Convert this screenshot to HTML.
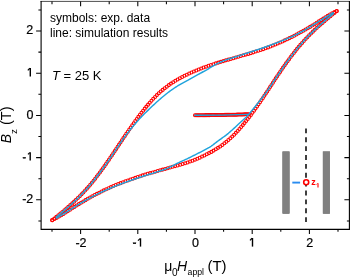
<!DOCTYPE html>
<html><head><meta charset="utf-8"><style>
html,body{margin:0;padding:0;background:#fff;}
body{width:350px;height:278px;overflow:hidden;}
svg{display:block;font-family:"Liberation Sans",sans-serif;will-change:transform;}
</style></head><body>
<svg width="350" height="278" viewBox="0 0 350 278">
<rect width="350" height="278" fill="#fff"/>
<g fill="none" stroke="#ff0000" stroke-width="1.05">
<circle cx="52.30" cy="220.10" r="1.5"/><circle cx="54.33" cy="218.48" r="1.5"/><circle cx="56.36" cy="216.85" r="1.5"/><circle cx="58.38" cy="215.21" r="1.5"/><circle cx="60.39" cy="213.57" r="1.5"/><circle cx="62.40" cy="211.91" r="1.5"/><circle cx="64.39" cy="210.24" r="1.5"/><circle cx="66.37" cy="208.56" r="1.5"/><circle cx="68.34" cy="206.86" r="1.5"/><circle cx="70.29" cy="205.13" r="1.5"/><circle cx="72.22" cy="203.39" r="1.5"/><circle cx="74.13" cy="201.63" r="1.5"/><circle cx="76.02" cy="199.84" r="1.5"/><circle cx="77.88" cy="198.03" r="1.5"/><circle cx="79.73" cy="196.20" r="1.5"/><circle cx="81.55" cy="194.35" r="1.5"/><circle cx="83.34" cy="192.46" r="1.5"/><circle cx="85.11" cy="190.56" r="1.5"/><circle cx="86.86" cy="188.63" r="1.5"/><circle cx="88.57" cy="186.68" r="1.5"/><circle cx="90.26" cy="184.70" r="1.5"/><circle cx="91.92" cy="182.70" r="1.5"/><circle cx="93.56" cy="180.68" r="1.5"/><circle cx="95.18" cy="178.65" r="1.5"/><circle cx="96.77" cy="176.59" r="1.5"/><circle cx="98.35" cy="174.53" r="1.5"/><circle cx="99.91" cy="172.44" r="1.5"/><circle cx="101.45" cy="170.35" r="1.5"/><circle cx="102.97" cy="168.24" r="1.5"/><circle cx="104.48" cy="166.13" r="1.5"/><circle cx="105.98" cy="164.00" r="1.5"/><circle cx="107.46" cy="161.86" r="1.5"/><circle cx="108.93" cy="159.72" r="1.5"/><circle cx="110.40" cy="157.57" r="1.5"/><circle cx="111.85" cy="155.42" r="1.5"/><circle cx="113.30" cy="153.26" r="1.5"/><circle cx="114.75" cy="151.10" r="1.5"/><circle cx="116.19" cy="148.93" r="1.5"/><circle cx="117.63" cy="146.77" r="1.5"/><circle cx="119.07" cy="144.61" r="1.5"/><circle cx="120.51" cy="142.44" r="1.5"/><circle cx="121.96" cy="140.28" r="1.5"/><circle cx="123.41" cy="138.12" r="1.5"/><circle cx="124.86" cy="135.97" r="1.5"/><circle cx="126.32" cy="133.82" r="1.5"/><circle cx="127.79" cy="131.67" r="1.5"/><circle cx="129.27" cy="129.53" r="1.5"/><circle cx="130.75" cy="127.40" r="1.5"/><circle cx="132.25" cy="125.27" r="1.5"/><circle cx="133.75" cy="123.15" r="1.5"/><circle cx="135.27" cy="121.04" r="1.5"/><circle cx="136.81" cy="118.94" r="1.5"/><circle cx="138.36" cy="116.85" r="1.5"/><circle cx="139.92" cy="114.78" r="1.5"/><circle cx="141.50" cy="112.71" r="1.5"/><circle cx="143.11" cy="110.67" r="1.5"/><circle cx="144.73" cy="108.64" r="1.5"/><circle cx="146.38" cy="106.63" r="1.5"/><circle cx="148.05" cy="104.64" r="1.5"/><circle cx="149.75" cy="102.67" r="1.5"/><circle cx="151.49" cy="100.73" r="1.5"/><circle cx="153.25" cy="98.82" r="1.5"/><circle cx="155.05" cy="96.95" r="1.5"/><circle cx="156.89" cy="95.11" r="1.5"/><circle cx="158.78" cy="93.32" r="1.5"/><circle cx="160.71" cy="91.58" r="1.5"/><circle cx="162.68" cy="89.88" r="1.5"/><circle cx="164.69" cy="88.24" r="1.5"/><circle cx="166.75" cy="86.65" r="1.5"/><circle cx="168.84" cy="85.11" r="1.5"/><circle cx="170.98" cy="83.62" r="1.5"/><circle cx="173.15" cy="82.19" r="1.5"/><circle cx="175.35" cy="80.82" r="1.5"/><circle cx="177.59" cy="79.49" r="1.5"/><circle cx="179.86" cy="78.21" r="1.5"/><circle cx="182.15" cy="76.99" r="1.5"/><circle cx="184.46" cy="75.80" r="1.5"/><circle cx="186.80" cy="74.65" r="1.5"/><circle cx="189.15" cy="73.54" r="1.5"/><circle cx="191.51" cy="72.47" r="1.5"/><circle cx="193.90" cy="71.43" r="1.5"/><circle cx="196.29" cy="70.42" r="1.5"/><circle cx="198.70" cy="69.45" r="1.5"/><circle cx="201.13" cy="68.50" r="1.5"/><circle cx="203.56" cy="67.58" r="1.5"/><circle cx="206.00" cy="66.70" r="1.5"/><circle cx="208.46" cy="65.83" r="1.5"/><circle cx="210.92" cy="65.00" r="1.5"/><circle cx="213.39" cy="64.18" r="1.5"/><circle cx="215.86" cy="63.39" r="1.5"/><circle cx="218.34" cy="62.61" r="1.5"/><circle cx="220.83" cy="61.85" r="1.5"/><circle cx="223.32" cy="61.10" r="1.5"/><circle cx="225.81" cy="60.37" r="1.5"/><circle cx="228.31" cy="59.64" r="1.5"/><circle cx="230.81" cy="58.92" r="1.5"/><circle cx="233.31" cy="58.21" r="1.5"/><circle cx="235.81" cy="57.49" r="1.5"/><circle cx="238.31" cy="56.78" r="1.5"/><circle cx="240.81" cy="56.07" r="1.5"/><circle cx="243.31" cy="55.34" r="1.5"/><circle cx="245.80" cy="54.62" r="1.5"/><circle cx="248.30" cy="53.88" r="1.5"/><circle cx="250.79" cy="53.13" r="1.5"/><circle cx="253.27" cy="52.37" r="1.5"/><circle cx="255.75" cy="51.59" r="1.5"/><circle cx="258.23" cy="50.79" r="1.5"/><circle cx="260.69" cy="49.97" r="1.5"/><circle cx="263.15" cy="49.13" r="1.5"/><circle cx="265.61" cy="48.27" r="1.5"/><circle cx="268.05" cy="47.38" r="1.5"/><circle cx="270.48" cy="46.46" r="1.5"/><circle cx="272.90" cy="45.51" r="1.5"/><circle cx="275.31" cy="44.53" r="1.5"/><circle cx="277.71" cy="43.53" r="1.5"/><circle cx="280.10" cy="42.50" r="1.5"/><circle cx="282.47" cy="41.44" r="1.5"/><circle cx="284.83" cy="40.36" r="1.5"/><circle cx="287.19" cy="39.25" r="1.5"/><circle cx="289.53" cy="38.11" r="1.5"/><circle cx="291.85" cy="36.96" r="1.5"/><circle cx="294.17" cy="35.77" r="1.5"/><circle cx="296.47" cy="34.57" r="1.5"/><circle cx="298.77" cy="33.34" r="1.5"/><circle cx="301.05" cy="32.09" r="1.5"/><circle cx="303.32" cy="30.83" r="1.5"/><circle cx="305.57" cy="29.53" r="1.5"/><circle cx="307.82" cy="28.22" r="1.5"/><circle cx="310.05" cy="26.89" r="1.5"/><circle cx="312.28" cy="25.54" r="1.5"/><circle cx="314.49" cy="24.17" r="1.5"/><circle cx="316.69" cy="22.79" r="1.5"/><circle cx="318.88" cy="21.39" r="1.5"/><circle cx="321.07" cy="19.99" r="1.5"/><circle cx="323.26" cy="18.60" r="1.5"/><circle cx="325.47" cy="17.22" r="1.5"/><circle cx="327.69" cy="15.86" r="1.5"/><circle cx="329.93" cy="14.54" r="1.5"/><circle cx="332.19" cy="13.27" r="1.5"/><circle cx="334.49" cy="12.05" r="1.5"/><circle cx="336.83" cy="10.91" r="1.5"/><circle cx="52.10" cy="220.19" r="1.5"/><circle cx="54.44" cy="219.06" r="1.5"/><circle cx="56.74" cy="217.86" r="1.5"/><circle cx="59.01" cy="216.59" r="1.5"/><circle cx="61.25" cy="215.27" r="1.5"/><circle cx="63.47" cy="213.91" r="1.5"/><circle cx="65.66" cy="212.52" r="1.5"/><circle cx="67.85" cy="211.12" r="1.5"/><circle cx="70.04" cy="209.70" r="1.5"/><circle cx="72.22" cy="208.29" r="1.5"/><circle cx="74.41" cy="206.89" r="1.5"/><circle cx="76.60" cy="205.50" r="1.5"/><circle cx="78.81" cy="204.13" r="1.5"/><circle cx="81.03" cy="202.77" r="1.5"/><circle cx="83.27" cy="201.44" r="1.5"/><circle cx="85.51" cy="200.13" r="1.5"/><circle cx="87.76" cy="198.83" r="1.5"/><circle cx="90.03" cy="197.55" r="1.5"/><circle cx="92.31" cy="196.30" r="1.5"/><circle cx="94.59" cy="195.07" r="1.5"/><circle cx="96.90" cy="193.86" r="1.5"/><circle cx="99.21" cy="192.67" r="1.5"/><circle cx="101.53" cy="191.50" r="1.5"/><circle cx="103.87" cy="190.36" r="1.5"/><circle cx="106.22" cy="189.25" r="1.5"/><circle cx="108.58" cy="188.17" r="1.5"/><circle cx="110.96" cy="187.11" r="1.5"/><circle cx="113.34" cy="186.07" r="1.5"/><circle cx="115.74" cy="185.07" r="1.5"/><circle cx="118.15" cy="184.09" r="1.5"/><circle cx="120.57" cy="183.14" r="1.5"/><circle cx="123.00" cy="182.21" r="1.5"/><circle cx="125.44" cy="181.31" r="1.5"/><circle cx="127.88" cy="180.43" r="1.5"/><circle cx="130.33" cy="179.56" r="1.5"/><circle cx="132.79" cy="178.70" r="1.5"/><circle cx="135.24" cy="177.85" r="1.5"/><circle cx="137.70" cy="177.00" r="1.5"/><circle cx="140.17" cy="176.18" r="1.5"/><circle cx="142.64" cy="175.37" r="1.5"/><circle cx="145.12" cy="174.59" r="1.5"/><circle cx="147.61" cy="173.84" r="1.5"/><circle cx="150.10" cy="173.11" r="1.5"/><circle cx="152.61" cy="172.40" r="1.5"/><circle cx="155.11" cy="171.70" r="1.5"/><circle cx="157.62" cy="171.01" r="1.5"/><circle cx="160.12" cy="170.32" r="1.5"/><circle cx="162.63" cy="169.62" r="1.5"/><circle cx="165.13" cy="168.92" r="1.5"/><circle cx="167.63" cy="168.22" r="1.5"/><circle cx="170.13" cy="167.50" r="1.5"/><circle cx="172.64" cy="166.80" r="1.5"/><circle cx="175.14" cy="166.11" r="1.5"/><circle cx="177.65" cy="165.43" r="1.5"/><circle cx="180.16" cy="164.73" r="1.5"/><circle cx="182.66" cy="164.02" r="1.5"/><circle cx="185.15" cy="163.26" r="1.5"/><circle cx="187.62" cy="162.45" r="1.5"/><circle cx="190.07" cy="161.58" r="1.5"/><circle cx="192.50" cy="160.65" r="1.5"/><circle cx="194.91" cy="159.69" r="1.5"/><circle cx="197.31" cy="158.69" r="1.5"/><circle cx="199.69" cy="157.65" r="1.5"/><circle cx="202.06" cy="156.58" r="1.5"/><circle cx="204.41" cy="155.47" r="1.5"/><circle cx="206.74" cy="154.31" r="1.5"/><circle cx="209.05" cy="153.12" r="1.5"/><circle cx="211.34" cy="151.88" r="1.5"/><circle cx="213.60" cy="150.60" r="1.5"/><circle cx="215.83" cy="149.26" r="1.5"/><circle cx="218.02" cy="147.87" r="1.5"/><circle cx="220.18" cy="146.42" r="1.5"/><circle cx="222.30" cy="144.91" r="1.5"/><circle cx="224.37" cy="143.34" r="1.5"/><circle cx="226.41" cy="141.72" r="1.5"/><circle cx="228.39" cy="140.04" r="1.5"/><circle cx="230.34" cy="138.32" r="1.5"/><circle cx="232.24" cy="136.55" r="1.5"/><circle cx="234.10" cy="134.73" r="1.5"/><circle cx="235.92" cy="132.87" r="1.5"/><circle cx="237.70" cy="130.97" r="1.5"/><circle cx="239.44" cy="129.04" r="1.5"/><circle cx="241.15" cy="127.09" r="1.5"/><circle cx="242.84" cy="125.11" r="1.5"/><circle cx="244.49" cy="123.10" r="1.5"/><circle cx="246.13" cy="121.08" r="1.5"/><circle cx="247.74" cy="119.04" r="1.5"/><circle cx="249.33" cy="116.98" r="1.5"/><circle cx="250.90" cy="114.91" r="1.5"/><circle cx="252.45" cy="112.83" r="1.5"/><circle cx="253.99" cy="110.73" r="1.5"/><circle cx="255.51" cy="108.62" r="1.5"/><circle cx="257.01" cy="106.50" r="1.5"/><circle cx="258.50" cy="104.37" r="1.5"/><circle cx="259.98" cy="102.23" r="1.5"/><circle cx="261.45" cy="100.08" r="1.5"/><circle cx="262.90" cy="97.93" r="1.5"/><circle cx="264.35" cy="95.77" r="1.5"/><circle cx="265.80" cy="93.61" r="1.5"/><circle cx="267.23" cy="91.44" r="1.5"/><circle cx="268.66" cy="89.26" r="1.5"/><circle cx="270.07" cy="87.08" r="1.5"/><circle cx="271.49" cy="84.90" r="1.5"/><circle cx="272.91" cy="82.72" r="1.5"/><circle cx="274.33" cy="80.55" r="1.5"/><circle cx="275.76" cy="78.37" r="1.5"/><circle cx="277.20" cy="76.21" r="1.5"/><circle cx="278.65" cy="74.05" r="1.5"/><circle cx="280.11" cy="71.90" r="1.5"/><circle cx="281.58" cy="69.75" r="1.5"/><circle cx="283.05" cy="67.62" r="1.5"/><circle cx="284.55" cy="65.49" r="1.5"/><circle cx="286.05" cy="63.37" r="1.5"/><circle cx="287.57" cy="61.25" r="1.5"/><circle cx="289.10" cy="59.16" r="1.5"/><circle cx="290.65" cy="57.07" r="1.5"/><circle cx="292.22" cy="55.00" r="1.5"/><circle cx="293.81" cy="52.94" r="1.5"/><circle cx="295.42" cy="50.89" r="1.5"/><circle cx="297.05" cy="48.87" r="1.5"/><circle cx="298.70" cy="46.86" r="1.5"/><circle cx="300.38" cy="44.88" r="1.5"/><circle cx="302.09" cy="42.91" r="1.5"/><circle cx="303.82" cy="40.98" r="1.5"/><circle cx="305.58" cy="39.06" r="1.5"/><circle cx="307.36" cy="37.17" r="1.5"/><circle cx="309.17" cy="35.30" r="1.5"/><circle cx="311.01" cy="33.46" r="1.5"/><circle cx="312.87" cy="31.64" r="1.5"/><circle cx="314.75" cy="29.85" r="1.5"/><circle cx="316.65" cy="28.08" r="1.5"/><circle cx="318.57" cy="26.33" r="1.5"/><circle cx="320.52" cy="24.60" r="1.5"/><circle cx="322.48" cy="22.89" r="1.5"/><circle cx="324.45" cy="21.20" r="1.5"/><circle cx="326.44" cy="19.52" r="1.5"/><circle cx="328.44" cy="17.86" r="1.5"/><circle cx="330.45" cy="16.21" r="1.5"/><circle cx="332.47" cy="14.58" r="1.5"/><circle cx="334.49" cy="12.95" r="1.5"/><circle cx="336.52" cy="11.32" r="1.5"/><circle cx="195.00" cy="115.25" r="1.5"/><circle cx="196.20" cy="115.24" r="1.5"/><circle cx="197.40" cy="115.23" r="1.5"/><circle cx="198.60" cy="115.21" r="1.5"/><circle cx="199.80" cy="115.20" r="1.5"/><circle cx="201.00" cy="115.19" r="1.5"/><circle cx="202.20" cy="115.18" r="1.5"/><circle cx="203.40" cy="115.17" r="1.5"/><circle cx="204.60" cy="115.15" r="1.5"/><circle cx="205.80" cy="115.14" r="1.5"/><circle cx="207.00" cy="115.13" r="1.5"/><circle cx="208.20" cy="115.12" r="1.5"/><circle cx="209.40" cy="115.11" r="1.5"/><circle cx="210.60" cy="115.09" r="1.5"/><circle cx="211.80" cy="115.08" r="1.5"/><circle cx="213.00" cy="115.07" r="1.5"/><circle cx="214.20" cy="115.06" r="1.5"/><circle cx="215.40" cy="115.04" r="1.5"/><circle cx="216.60" cy="115.02" r="1.5"/><circle cx="217.80" cy="115.00" r="1.5"/><circle cx="219.00" cy="114.98" r="1.5"/><circle cx="220.20" cy="114.96" r="1.5"/><circle cx="221.40" cy="114.94" r="1.5"/><circle cx="222.60" cy="114.92" r="1.5"/><circle cx="223.80" cy="114.90" r="1.5"/><circle cx="225.00" cy="114.88" r="1.5"/><circle cx="226.20" cy="114.85" r="1.5"/><circle cx="227.40" cy="114.83" r="1.5"/><circle cx="228.60" cy="114.81" r="1.5"/><circle cx="229.80" cy="114.79" r="1.5"/><circle cx="231.00" cy="114.77" r="1.5"/><circle cx="232.20" cy="114.75" r="1.5"/><circle cx="233.40" cy="114.73" r="1.5"/><circle cx="234.60" cy="114.71" r="1.5"/><circle cx="235.80" cy="114.67" r="1.5"/><circle cx="236.99" cy="114.63" r="1.5"/><circle cx="238.19" cy="114.59" r="1.5"/><circle cx="239.39" cy="114.54" r="1.5"/><circle cx="240.59" cy="114.50" r="1.5"/><circle cx="241.79" cy="114.46" r="1.5"/><circle cx="242.99" cy="114.41" r="1.5"/><circle cx="244.19" cy="114.37" r="1.5"/><circle cx="245.39" cy="114.33" r="1.5"/><circle cx="246.59" cy="114.29" r="1.5"/><circle cx="247.79" cy="114.24" r="1.5"/><circle cx="248.99" cy="114.20" r="1.5"/>
</g>
<g fill="none" stroke="#1fa3dc" stroke-width="1.45" stroke-linejoin="round" stroke-linecap="round">
<path d="M56.12,217.06 L57.07,216.29 L58.02,215.52 L58.98,214.75 L59.93,213.97 L60.88,213.19 L61.84,212.41 L62.79,211.62 L63.75,210.83 L64.70,210.03 L65.65,209.22 L66.61,208.41 L67.56,207.58 L68.52,206.76 L69.47,205.92 L70.43,205.08 L71.38,204.22 L72.33,203.36 L73.29,202.49 L74.24,201.60 L75.20,200.71 L76.15,199.81 L77.11,198.89 L78.06,197.96 L79.02,197.02 L79.97,196.07 L80.93,195.10 L81.88,194.12 L82.84,193.13 L83.79,192.12 L84.75,191.10 L85.70,190.06 L86.66,189.00 L87.61,187.93 L88.57,186.85 L89.52,185.74 L90.48,184.62 L91.43,183.48 L92.39,182.33 L93.34,181.15 L94.30,179.97 L95.26,178.76 L96.21,177.54 L97.17,176.31 L98.12,175.06 L99.08,173.80 L100.03,172.52 L100.99,171.24 L101.94,169.93 L102.90,168.62 L103.86,167.29 L104.82,165.95 L105.77,164.60 L106.73,163.24 L107.69,161.87 L108.64,160.49 L109.60,159.09 L110.55,157.70 L111.51,156.29 L112.46,154.87 L113.41,153.46 L114.36,152.03 L115.32,150.61 L116.27,149.18 L117.22,147.75 L118.17,146.32 L119.13,144.89 L120.08,143.46 L121.04,142.04 L122.01,140.62 L122.97,139.21 L123.95,137.81 L124.95,136.44 L125.97,135.08 L127.00,133.74 L128.05,132.41 L129.09,131.09 L130.13,129.78 L131.18,128.48 L132.24,127.20 L133.30,125.93 L134.37,124.68 L135.44,123.44 L136.52,122.21 L137.59,121.00 L138.67,119.80 L139.74,118.62 L140.83,117.46 L141.92,116.32 L143.01,115.20 L144.10,114.10 L145.19,113.01 L146.28,111.95 L147.37,110.89 L148.44,109.86 L149.51,108.84 L150.57,107.83 L151.62,106.84 L152.65,105.85 L153.67,104.88 L154.68,103.93 L155.69,102.99 L156.69,102.08 L157.68,101.19 L158.67,100.32 L159.64,99.47 L160.61,98.64 L161.57,97.82 L162.51,97.02 L163.45,96.23 L164.38,95.45 L165.30,94.69 L166.23,93.96 L167.15,93.24 L168.07,92.53 L168.98,91.85 L169.90,91.17 L170.81,90.51 L171.72,89.87 L172.62,89.23 L173.52,88.61 L174.42,87.99 L175.33,87.40 L176.23,86.81 L177.13,86.24 L178.04,85.68 L178.94,85.13 L179.85,84.60 L180.75,84.07 L181.66,83.56 L182.57,83.05 L183.48,82.56 L184.40,82.07 L185.31,81.60 L186.23,81.13 L187.14,80.66 L188.05,80.18 L188.94,79.68 L189.84,79.18 L190.73,78.68 L191.62,78.18 L192.51,77.69 L193.40,77.20 L194.29,76.71 L195.18,76.21 L196.07,75.72 L196.95,75.23 L197.84,74.73 L198.72,74.23 L199.61,73.74 L200.49,73.24 L201.37,72.75 L202.25,72.25 L203.14,71.76 L204.02,71.27 L204.91,70.78 L205.79,70.29 L206.68,69.80 L207.55,69.29 L208.43,68.76 L209.30,68.23 L210.17,67.69 L211.04,67.14 L211.91,66.60 L212.78,66.06 L213.66,65.54 L214.54,65.03 L215.43,64.54 L216.33,64.07 L217.23,63.63 L218.14,63.21 L219.06,62.79 L219.97,62.37 L220.89,61.97 L221.80,61.57 L222.73,61.18 L223.65,60.80 L224.58,60.43 L225.51,60.07 L226.44,59.73 L227.38,59.41 L228.32,59.10 L229.27,58.80 L230.21,58.50 L231.16,58.21 L232.11,57.92 L233.06,57.63 L234.01,57.34 L234.95,57.05 L235.90,56.76 L236.85,56.47 L237.79,56.17 L238.73,55.86 L239.67,55.55 L240.61,55.24 L241.55,54.92 L242.49,54.60 L243.43,54.28 L244.37,53.96 L245.31,53.64 L246.25,53.33 L247.19,53.02 L248.13,52.71 L249.07,52.40 L250.02,52.11 L250.97,51.81 L251.91,51.51 L252.86,51.21 L253.81,50.90 L254.75,50.59 L255.70,50.29 L256.65,49.97 L257.59,49.66 L258.54,49.34 L259.49,49.03 L260.43,48.70 L261.38,48.38 L262.33,48.05 L263.27,47.72 L264.22,47.38 L265.17,47.04 L266.11,46.70 L267.06,46.36 L268.01,46.02 L268.96,45.68 L269.92,45.33 L270.87,44.99 L271.83,44.64 L272.78,44.29 L273.74,43.93 L274.70,43.57 L275.66,43.20 L276.62,42.83 L277.58,42.47 L278.55,42.10 L279.52,41.74 L280.49,41.37 L281.46,41.00 L282.44,40.63 L283.41,40.25 L284.38,39.87 L285.36,39.48 L286.33,39.08 L287.30,38.67 L288.27,38.25 L289.24,37.82 L290.21,37.40 L291.19,36.97 L292.16,36.53 L293.13,36.09 L294.10,35.64 L295.07,35.18 L296.04,34.71 L297.01,34.24 L297.97,33.75 L298.93,33.25 L299.89,32.73 L300.84,32.21 L301.79,31.68 L302.74,31.15 L303.69,30.61 L304.65,30.07 L305.60,29.52 L306.55,28.97 L307.50,28.41 L308.46,27.85 L309.41,27.28 L310.36,26.71 L311.31,26.13 L312.27,25.55 L313.22,24.96 L314.17,24.37 L315.12,23.78 L316.07,23.18 L317.03,22.57 L317.98,21.96 L318.93,21.36 L319.88,20.75 L320.84,20.14 L321.79,19.53 L322.74,18.93 L323.69,18.32 L324.64,17.73 L325.60,17.14 L326.55,16.55 L327.50,15.97 L328.45,15.40 L329.41,14.84 L330.36,14.29 L331.31,13.75 L332.26,13.23 L333.21,12.71"/>
<path d="M56.37,218.07 L57.33,217.55 L58.28,217.02 L59.23,216.48 L60.18,215.93 L61.13,215.37 L62.08,214.80 L63.03,214.22 L63.99,213.64 L64.94,213.05 L65.89,212.45 L66.84,211.85 L67.80,211.24 L68.75,210.64 L69.70,210.03 L70.66,209.42 L71.61,208.81 L72.56,208.21 L73.52,207.61 L74.47,207.01 L75.42,206.41 L76.38,205.83 L77.33,205.24 L78.29,204.66 L79.24,204.09 L80.19,203.52 L81.15,202.96 L82.10,202.40 L83.06,201.84 L84.01,201.29 L84.97,200.75 L85.92,200.21 L86.87,199.67 L87.83,199.14 L88.78,198.62 L89.74,198.10 L90.69,197.58 L91.64,197.07 L92.60,196.57 L93.55,196.07 L94.51,195.57 L95.46,195.08 L96.42,194.60 L97.37,194.12 L98.32,193.64 L99.28,193.17 L100.23,192.71 L101.19,192.25 L102.15,191.81 L103.11,191.37 L104.07,190.95 L105.03,190.53 L106.00,190.11 L106.96,189.70 L107.92,189.29 L108.88,188.88 L109.83,188.47 L110.79,188.06 L111.74,187.65 L112.69,187.25 L113.64,186.85 L114.59,186.46 L115.54,186.07 L116.49,185.69 L117.45,185.31 L118.40,184.94 L119.35,184.57 L120.30,184.20 L121.25,183.84 L122.20,183.49 L123.15,183.14 L124.10,182.79 L125.05,182.44 L126.00,182.10 L126.95,181.77 L127.90,181.43 L128.85,181.10 L129.80,180.77 L130.75,180.44 L131.70,180.11 L132.64,179.78 L133.59,179.45 L134.54,179.13 L135.48,178.80 L136.43,178.48 L137.37,178.16 L138.31,177.85 L139.26,177.53 L140.20,177.22 L141.15,176.91 L142.09,176.60 L143.03,176.30 L143.98,176.00 L144.92,175.70 L145.87,175.41 L146.81,175.12 L147.75,174.82 L148.70,174.53 L149.64,174.24 L150.59,173.95 L151.53,173.66 L152.48,173.37 L153.42,173.08 L154.37,172.78 L155.31,172.48 L156.26,172.18 L157.20,171.88 L158.14,171.58 L159.08,171.27 L160.02,170.96 L160.97,170.65 L161.91,170.33 L162.85,170.02 L163.79,169.70 L164.72,169.37 L165.66,169.04 L166.59,168.67 L167.51,168.27 L168.42,167.85 L169.32,167.41 L170.23,166.96 L171.14,166.51 L172.05,166.07 L172.97,165.62 L173.87,165.16 L174.78,164.68 L175.69,164.20 L176.59,163.73 L177.50,163.26 L178.41,162.80 L179.33,162.37 L180.24,161.95 L181.16,161.53 L182.07,161.12 L182.98,160.70 L183.89,160.29 L184.79,159.87 L185.69,159.46 L186.59,159.04 L187.48,158.62 L188.37,158.19 L189.26,157.76 L190.17,157.31 L191.07,156.87 L191.97,156.41 L192.87,155.96 L193.77,155.51 L194.68,155.05 L195.58,154.59 L196.49,154.14 L197.40,153.68 L198.31,153.22 L199.22,152.77 L200.14,152.31 L201.06,151.85 L201.98,151.39 L202.90,150.92 L203.81,150.44 L204.73,149.96 L205.64,149.47 L206.56,148.96 L207.47,148.45 L208.37,147.92 L209.28,147.38 L210.17,146.82 L211.06,146.23 L211.93,145.62 L212.80,144.99 L213.65,144.34 L214.51,143.68 L215.37,143.01 L216.23,142.34 L217.10,141.67 L217.98,141.01 L218.87,140.35 L219.78,139.70 L220.70,139.04 L221.63,138.38 L222.58,137.71 L223.53,137.02 L224.49,136.32 L225.45,135.60 L226.42,134.87 L227.39,134.10 L228.36,133.32 L229.32,132.50 L230.29,131.67 L231.27,130.81 L232.25,129.92 L233.24,129.02 L234.23,128.10 L235.24,127.16 L236.25,126.20 L237.28,125.23 L238.33,124.26 L239.41,123.29 L240.51,122.31 L241.62,121.33 L242.75,120.32 L243.87,119.30 L244.99,118.25 L246.10,117.17 L247.19,116.06 L248.25,114.91 L249.30,113.73 L250.33,112.53 L251.35,111.31 L252.37,110.07 L253.39,108.81 L254.40,107.54 L255.41,106.26 L256.43,104.98 L257.46,103.68 L258.49,102.38 L259.54,101.08 L260.59,99.77 L261.64,98.45 L262.68,97.13 L263.73,95.79 L264.76,94.44 L265.78,93.07 L266.77,91.69 L267.75,90.28 L268.71,88.86 L269.67,87.44 L270.62,86.01 L271.58,84.58 L272.53,83.15 L273.48,81.72 L274.44,80.29 L275.39,78.87 L276.34,77.45 L277.30,76.03 L278.26,74.62 L279.21,73.22 L280.16,71.82 L281.12,70.42 L282.07,69.04 L283.02,67.66 L283.97,66.30 L284.93,64.95 L285.88,63.61 L286.83,62.28 L287.78,60.96 L288.74,59.66 L289.69,58.36 L290.64,57.09 L291.59,55.82 L292.54,54.57 L293.50,53.34 L294.45,52.12 L295.40,50.91 L296.35,49.73 L297.31,48.55 L298.26,47.39 L299.21,46.25 L300.16,45.13 L301.11,44.02 L302.07,42.94 L303.02,41.86 L303.97,40.81 L304.92,39.77 L305.88,38.74 L306.83,37.73 L307.78,36.74 L308.73,35.75 L309.68,34.79 L310.64,33.83 L311.59,32.89 L312.54,31.96 L313.49,31.04 L314.45,30.14 L315.40,29.24 L316.35,28.36 L317.30,27.48 L318.25,26.62 L319.21,25.76 L320.16,24.91 L321.11,24.08 L322.06,23.25 L323.02,22.42 L323.97,21.61 L324.92,20.80 L325.87,20.00 L326.83,19.20 L327.78,18.41 L328.73,17.62 L329.68,16.84 L330.63,16.06 L331.59,15.29 L332.54,14.52 L333.49,13.75"/>
<path d="M194.8,115.3 L222,115.1 L247.7,114.35"/>
</g>
<g stroke="#000" stroke-width="1.05" fill="none">
<path d="M41.1,0.95 V229.9 M40.550000000000004,229.4 H349.9 M349.4,229.9 V0.95" stroke-width="1.1"/>
<path d="M40.550000000000004,1.4 H349.9" stroke-width="0.7"/>
<path d="M52.00,229.4 V231.70000000000002 M52.00,1.4 V4.199999999999999 M80.60,229.4 V234.0 M80.60,1.4 V6.199999999999999 M109.20,229.4 V231.70000000000002 M109.20,1.4 V4.199999999999999 M137.80,229.4 V234.0 M137.80,1.4 V6.199999999999999 M166.40,229.4 V231.70000000000002 M166.40,1.4 V4.199999999999999 M195.00,229.4 V234.0 M195.00,1.4 V6.199999999999999 M223.60,229.4 V231.70000000000002 M223.60,1.4 V4.199999999999999 M252.20,229.4 V234.0 M252.20,1.4 V6.199999999999999 M280.80,229.4 V231.70000000000002 M280.80,1.4 V4.199999999999999 M309.40,229.4 V234.0 M309.40,1.4 V6.199999999999999 M338.00,229.4 V231.70000000000002 M338.00,1.4 V4.199999999999999 M41.1,220.90 H38.4 M349.4,220.90 H346.9 M41.1,199.80 H36.1 M349.4,199.80 H344.4 M41.1,178.70 H38.4 M349.4,178.70 H346.9 M41.1,157.60 H36.1 M349.4,157.60 H344.4 M41.1,136.50 H38.4 M349.4,136.50 H346.9 M41.1,115.40 H36.1 M349.4,115.40 H344.4 M41.1,94.30 H38.4 M349.4,94.30 H346.9 M41.1,73.20 H36.1 M349.4,73.20 H344.4 M41.1,52.10 H38.4 M349.4,52.10 H346.9 M41.1,31.00 H36.1 M349.4,31.00 H344.4 M41.1,9.90 H38.4 M349.4,9.90 H346.9"/>
</g>
<g font-size="12.5" fill="#000" stroke="#000" stroke-width="0.2">
<text x="81.0" y="246.6" text-anchor="middle">-2</text><rect x="133.0" y="242.6" width="3.0" height="1.25" fill="#000"/><path d="M140.50,238.30 V246.60" stroke="#000" stroke-width="1.4" fill="none"/><path d="M140.05,238.55 L138.00,240.60" stroke="#000" stroke-width="1.2" fill="none"/><text x="195.4" y="246.6" text-anchor="middle">0</text><path d="M252.50,238.00 V246.60" stroke="#000" stroke-width="1.4" fill="none"/><path d="M252.05,238.25 L250.00,240.30" stroke="#000" stroke-width="1.2" fill="none"/><text x="309.8" y="246.6" text-anchor="middle">2</text><text x="33.3" y="34.1" text-anchor="end">2</text><path d="M30.30,68.00 V76.40" stroke="#000" stroke-width="1.4" fill="none"/><path d="M29.85,68.25 L27.80,70.30" stroke="#000" stroke-width="1.2" fill="none"/><text x="33.4" y="118.6" text-anchor="end">0</text><rect x="22.9" y="157.2" width="2.9" height="1.25" fill="#000"/><path d="M30.20,152.30 V160.60" stroke="#000" stroke-width="1.4" fill="none"/><path d="M29.75,152.55 L28.00,154.30" stroke="#000" stroke-width="1.2" fill="none"/><text x="33.3" y="203.0" text-anchor="end">-2</text>
</g>
<g font-size="12" fill="#000">
<text x="50" y="22">symbols: exp. data</text>
<text x="50" y="36.7">line: simulation results</text>
</g>
<text x="52" y="79.5" font-size="13"><tspan font-style="italic">T</tspan> = 25 K</text>
<g font-size="14">
<text x="164.3" y="270.9">&#956;</text>
<text x="172.0" y="275.6" font-size="10">0</text>
<text x="177.0" y="270.9" font-style="italic">H</text>
<text x="187.6" y="275.3" font-size="8.7">appl</text>
<text x="207.4" y="270.9" font-size="15">(T)</text>
</g>
<text transform="translate(11.3,143.3) rotate(-90)" font-size="14"><tspan font-style="italic">B</tspan><tspan font-size="9.8" dy="5.6">z</tspan><tspan dy="-5.6" font-size="14.5"> (T)</tspan></text>
<!-- inset -->
<rect x="282.7" y="151.7" width="6.6" height="61.9" fill="#808080" stroke="#6c6c6c" stroke-width="0.6"/>
<rect x="323.1" y="151.7" width="6.6" height="61.9" fill="#808080" stroke="#6c6c6c" stroke-width="0.6"/>
<path d="M306,128.5 V222.1" stroke="#000" stroke-width="1.5" stroke-dasharray="4.8,4.07"/>
<path d="M292.3,182.6 H300.1" stroke="#2a8cf0" stroke-width="1.9"/>
<circle cx="306.2" cy="182.3" r="2.5" fill="#fff" stroke="#ff0000" stroke-width="1.6"/>
<text x="311.3" y="184.9" font-size="9" font-weight="bold" fill="#ff0000">z</text><path d="M318.00,183.20 V187.40" stroke="#ff0000" stroke-width="1.1" fill="none"/><path d="M317.55,183.45 L316.50,184.40" stroke="#ff0000" stroke-width="0.9" fill="none"/>
</svg>
</body></html>
